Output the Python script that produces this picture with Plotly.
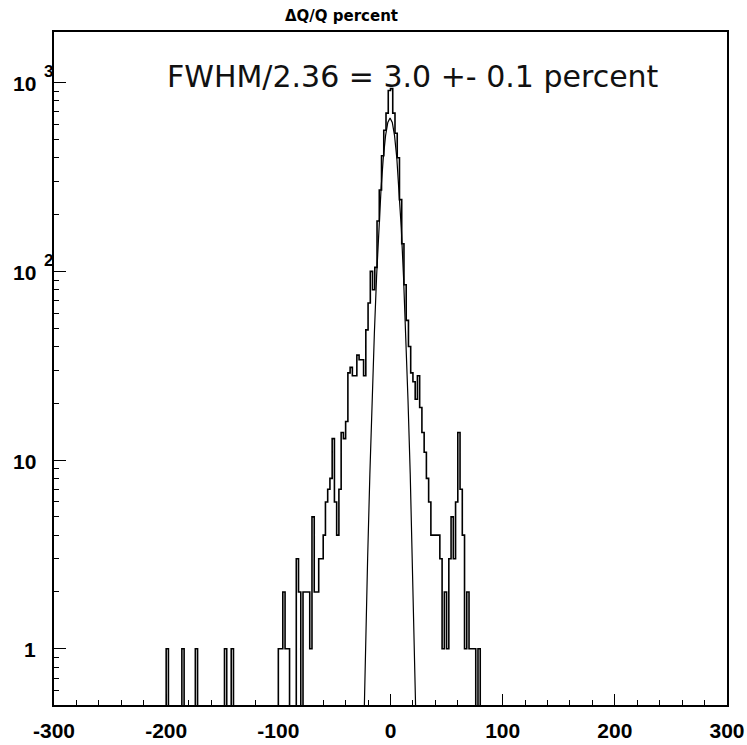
import numpy as np
import plotly.graph_objects as go

# ---------------- data ----------------
bin_width = 2.0
x_lo, x_hi = -300.0, 300.0

# contiguous block of bins, first bin centre = -99, step 2
core_first_center = -99
core_counts = [
    1, 1, 2, 1, 1, 0, 0, 0, 3, 2,          # -99 .. -81
    0, 2, 2, 2, 1, 5, 2, 2, 3, 3,          # -79 .. -61
    4, 6, 7, 8, 13, 6, 4, 7, 14, 13,       # -59 .. -41
    16, 29, 31, 28, 28, 36, 34, 34, 28, 49,  # -39 .. -21
    68, 100, 80, 105, 185, 270, 410, 560, 690, 910,  # -19 .. -1
    930, 690, 540, 400, 240, 140, 85, 55, 40, 29,    # 1 .. 19
    26, 21, 28, 19, 14, 11, 8, 6, 4, 4,    # 21 .. 39
    4, 4, 3, 1, 2, 1, 3, 5, 3, 6,          # 41 .. 59
    14, 7, 4, 1, 2, 1, 1, 1, 0, 1,         # 61 .. 79
]
isolated_centers = [-199, -185, -173, -147, -141]
isolated_counts = [1, 1, 1, 1, 1]

fit_x = [-26.4, -24.4, -22.4, -20.4, -18.4, -16.4, -14.4, -12.4, -10.4, -8.4,
         -6.4, -4.4, -2.4, -0.4, 1.6, 3.6, 5.6, 7.6, 9.6, 11.6, 13.6, 15.6,
         17.6, 19.6, 21.6, 23.6, 25.6]
fit_y = [0.074, 0.28, 0.97, 3.0, 8.4, 20.8, 46.7, 94, 170, 275,
         401, 524, 616, 650, 616, 524, 401, 275, 170, 94, 46.7, 20.8,
         8.4, 3.0, 0.97, 0.28, 0.074]

x_tickvals = [-300, -200, -100, 0, 100, 200, 300]
x_ticktext = ["-300", "-200", "-100", "0", "100", "200", "300"]
y_tickvals = [1, 10, 100, 1000]
y_tick_base = ["1", "10", "10", "10"]
y_tick_exp = ["", "", "2", "3"]

title_text = "ΔQ/Q percent"
fit_text = "FWHM/2.36 = 3.0 +- 0.1 percent"

# ---------------- build histogram ----------------
edges = np.arange(x_lo, x_hi + bin_width / 2, bin_width)
counts = np.zeros(len(edges) - 1)
for i, c in enumerate(core_counts):
    centre = core_first_center + i * bin_width
    counts[int(round((centre - bin_width / 2 - x_lo) / bin_width))] = c
for centre, c in zip(isolated_centers, isolated_counts):
    counts[int(round((centre - bin_width / 2 - x_lo) / bin_width))] = c

floor = 0.05  # empty bins are drawn below the visible range (log axis)
plot_counts = np.where(counts > 0, counts, floor)
step_x = edges
step_y = np.append(plot_counts, plot_counts[-1])

fig = go.Figure()
fig.add_trace(go.Scatter(x=step_x, y=step_y, mode="lines",
                         line=dict(shape="hv", color="black", width=1.6),
                         hoverinfo="skip", showlegend=False))
fig.add_trace(go.Scatter(x=fit_x, y=fit_y, mode="lines",
                         line=dict(color="black", width=1.2),
                         hoverinfo="skip", showlegend=False))

L, R, T, B = 54, 20, 32, 40
W, H = 747, 745
pw, ph = W - L - R, H - T - B

label_font = dict(family="Liberation Sans, Arial, sans-serif", size=21,
                  color="black", weight="bold")

fig.update_layout(
    width=W, height=H,
    margin=dict(l=L, r=R, t=T, b=B, pad=0, autoexpand=False),
    paper_bgcolor="white", plot_bgcolor="white",
    showlegend=False,
    xaxis=dict(
        range=[x_lo, x_hi], showgrid=False, zeroline=False, automargin=False,
        showline=True, linecolor="black", linewidth=1.8, mirror=True,
        tickmode="array", tickvals=x_tickvals, ticktext=x_ticktext,
        ticks="inside", ticklen=11, tickwidth=1, tickcolor="black",
        tickfont=label_font, ticklabelstandoff=6,
        minor=dict(ticks="inside", ticklen=5.5, tickwidth=1,
                   tickcolor="black", dtick=20, tick0=0, showgrid=False),
    ),
    yaxis=dict(
        type="log", range=[-0.298, 3.2687], showgrid=False, zeroline=False,
        automargin=False,
        showline=True, linecolor="black", linewidth=1.8, mirror=True,
        tickmode="linear", tick0=0, dtick=1,
        ticks="inside", ticklen=12, tickwidth=1, tickcolor="black",
        showticklabels=False,
        minor=dict(ticks="inside", ticklen=5, tickwidth=1,
                   tickcolor="black", dtick="D1", showgrid=False),
    ),
)

annotations = []
for v, base, ex in zip(y_tickvals, y_tick_base, y_tick_exp):
    # "10" right-aligned at x = 37 px, exponent hangs to the right of it
    annotations.append(dict(
        xref="paper", yref="y", x=0, y=np.log10(v),
        text=base, showarrow=False, font=label_font, borderpad=0,
        xanchor="right", xshift=37 - L, yanchor="middle", yshift=-1))
    if ex:
        annotations.append(dict(
            xref="paper", yref="y", x=0, y=np.log10(v),
            text=ex, showarrow=False, borderpad=0,
            font=dict(family="Liberation Sans, Arial, sans-serif", size=17,
                      color="black", weight="bold"),
            xanchor="left", xshift=43 - L, yanchor="middle", yshift=11))

annotations.append(dict(
    xref="paper", yref="paper", x=(341 - L) / pw, y=1 + (T - 16) / ph,
    text=title_text, showarrow=False, borderpad=0,
    font=dict(family="DejaVu Sans, sans-serif", size=15, color="black",
              weight="bold"),
    xanchor="center", yanchor="middle"))
annotations.append(dict(
    xref="paper", yref="paper", x=(412.5 - L) / pw, y=1 - (76 - T) / ph,
    text=fit_text, showarrow=False, borderpad=0,
    font=dict(family="DejaVu Sans, sans-serif", size=30, color="#111111"),
    xanchor="center", yanchor="middle"))

fig.update_layout(annotations=annotations)
fig.write_html("out.html")
